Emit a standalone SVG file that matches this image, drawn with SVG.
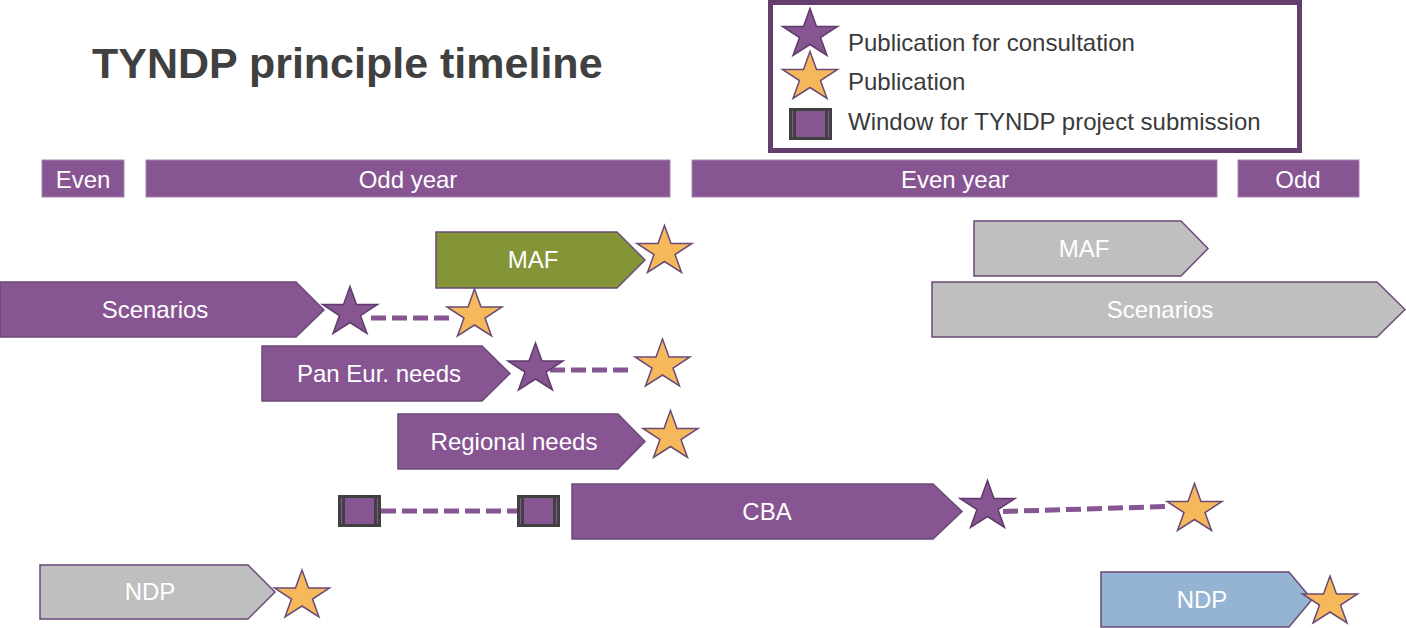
<svg xmlns="http://www.w3.org/2000/svg" xmlns:xlink="http://www.w3.org/1999/xlink" width="1406" height="628" viewBox="0 0 1406 628">
<style>
text{font-family:"Liberation Sans",Arial,sans-serif;}
.lbl{font-size:24px;fill:#ffffff;text-anchor:middle;}
.leg{font-size:24px;fill:#3a3a3a;}
.title{font-size:43px;font-weight:bold;fill:#404040;}
.year{fill:#875592;stroke:#a683b0;stroke-width:1;}
.arr{stroke:#6b4a78;stroke-width:1.5;}
.purple{fill:#875592;}
.green{fill:#839537;}
.grey{fill:#bfbfbf;}
.blue{fill:#95b3d2;}
.sp{fill:#875592;stroke:#5f3b6e;stroke-width:1.5;}
.so{fill:#f5b95b;stroke:#6b4a78;stroke-width:1.5;}
.dash{stroke:#875592;stroke-width:5;stroke-dasharray:15 6;fill:none;}
</style>
<defs>
<polygon id="star" points="0,-26 6.5,-8 27.5,-8 10.5,3.1 17,21 0,10 -17,21 -10.5,3.1 -27.5,-8 -6.5,-8"/>
<g id="win">
<rect x="0" y="0" width="43" height="32" fill="#404040"/>
<rect x="7" y="3" width="29" height="26" fill="#875592"/>
<line x1="3.5" y1="3" x2="3.5" y2="29" stroke="#875592" stroke-width="1.2"/>
<line x1="39.5" y1="3" x2="39.5" y2="29" stroke="#875592" stroke-width="1.2"/>
</g>
</defs>
<rect width="1406" height="628" fill="#ffffff"/>

<g id="title"><text class="title" x="92" y="78">TYNDP principle timeline</text></g>

<g id="legend">
<rect x="770.5" y="2.5" width="529" height="148" fill="#ffffff" stroke="#643f6e" stroke-width="5"/>
<use xlink:href="#star" class="sp" transform="translate(810,34.5)"/>
<use xlink:href="#star" class="so" transform="translate(810,77.5)"/>
<use xlink:href="#win" transform="translate(789,108)"/>
<text class="leg" x="848" y="51">Publication for consultation</text>
<text class="leg" x="848" y="90">Publication</text>
<text class="leg" x="848" y="130">Window for TYNDP project submission</text>
</g>

<g id="years">
<g id="year-even1"><rect class="year" x="42" y="160" width="82" height="37"/><text class="lbl" x="83" y="188">Even</text></g>
<g id="year-odd1"><rect class="year" x="146" y="160" width="524" height="37"/><text class="lbl" x="408" y="188">Odd year</text></g>
<g id="year-even2"><rect class="year" x="692" y="160" width="525" height="37"/><text class="lbl" x="955" y="188">Even year</text></g>
<g id="year-odd2"><rect class="year" x="1238" y="160" width="121" height="37"/><text class="lbl" x="1298" y="188">Odd</text></g>
</g>

<g id="maf-green"><path class="arr green" d="M436 232 H617 L645 260 L617 288 H436 Z"/><text class="lbl" x="533" y="268">MAF</text></g>
<g id="scenarios"><path class="arr purple" d="M0 282 H296 L324 310 L296 337 H0 Z"/><text class="lbl" x="155" y="318">Scenarios</text></g>
<g id="pan-eur-needs"><path class="arr purple" d="M262 346 H482 L510 373.5 L482 401 H262 Z"/><text class="lbl" x="379" y="382">Pan Eur. needs</text></g>
<g id="regional-needs"><path class="arr purple" d="M398 414 H618 L645 441.5 L618 469 H398 Z"/><text class="lbl" x="514" y="450">Regional needs</text></g>
<g id="cba"><path class="arr purple" d="M572 484 H933 L962 511.5 L933 539 H572 Z"/><text class="lbl" x="767" y="520">CBA</text></g>
<g id="ndp-grey"><path class="arr grey" d="M40 565 H248 L275 592 L248 619 H40 Z"/><text class="lbl" x="150" y="600">NDP</text></g>
<g id="ndp-blue"><path class="arr blue" d="M1101 572 H1289 L1312 599.5 L1289 627 H1101 Z"/><text class="lbl" x="1202" y="608">NDP</text></g>
<g id="maf-grey"><path class="arr grey" d="M974 221 H1181 L1208 248.5 L1181 276 H974 Z"/><text class="lbl" x="1084" y="257">MAF</text></g>
<g id="scenarios-grey"><path class="arr grey" d="M932 282 H1377 L1405 309.5 L1377 337 H932 Z"/><text class="lbl" x="1160" y="318">Scenarios</text></g>

<g id="connectors">
<line class="dash" x1="371" y1="318" x2="449" y2="318"/>
<line class="dash" x1="550" y1="370" x2="630" y2="370"/>
<line class="dash" x1="381" y1="511" x2="517" y2="511"/>
<line class="dash" x1="1003" y1="511.5" x2="1168" y2="506.5"/>
</g>

<g id="markers">
<g id="star-maf"><use xlink:href="#star" class="so" transform="translate(664.5,251.5)"/></g>
<g id="star-scen-consult"><use xlink:href="#star" class="sp" transform="translate(350,312.5)"/></g>
<g id="star-scen-pub"><use xlink:href="#star" class="so" transform="translate(474.5,315)"/></g>
<g id="star-pan-consult"><use xlink:href="#star" class="sp" transform="translate(535.5,369)"/></g>
<g id="star-pan-pub"><use xlink:href="#star" class="so" transform="translate(662.5,365)"/></g>
<g id="star-regional"><use xlink:href="#star" class="so" transform="translate(670.5,436.5)"/></g>
<g id="star-cba-consult"><use xlink:href="#star" class="sp" transform="translate(987.5,506.5)"/></g>
<g id="star-cba-pub"><use xlink:href="#star" class="so" transform="translate(1194.5,509.5)"/></g>
<g id="star-ndp1"><use xlink:href="#star" class="so" transform="translate(302,596)"/></g>
<g id="star-ndp2"><use xlink:href="#star" class="so" transform="translate(1330,602)"/></g>
<g id="window1"><use xlink:href="#win" transform="translate(338,495)"/></g>
<g id="window2"><use xlink:href="#win" transform="translate(517,495)"/></g>
</g>
</svg>
